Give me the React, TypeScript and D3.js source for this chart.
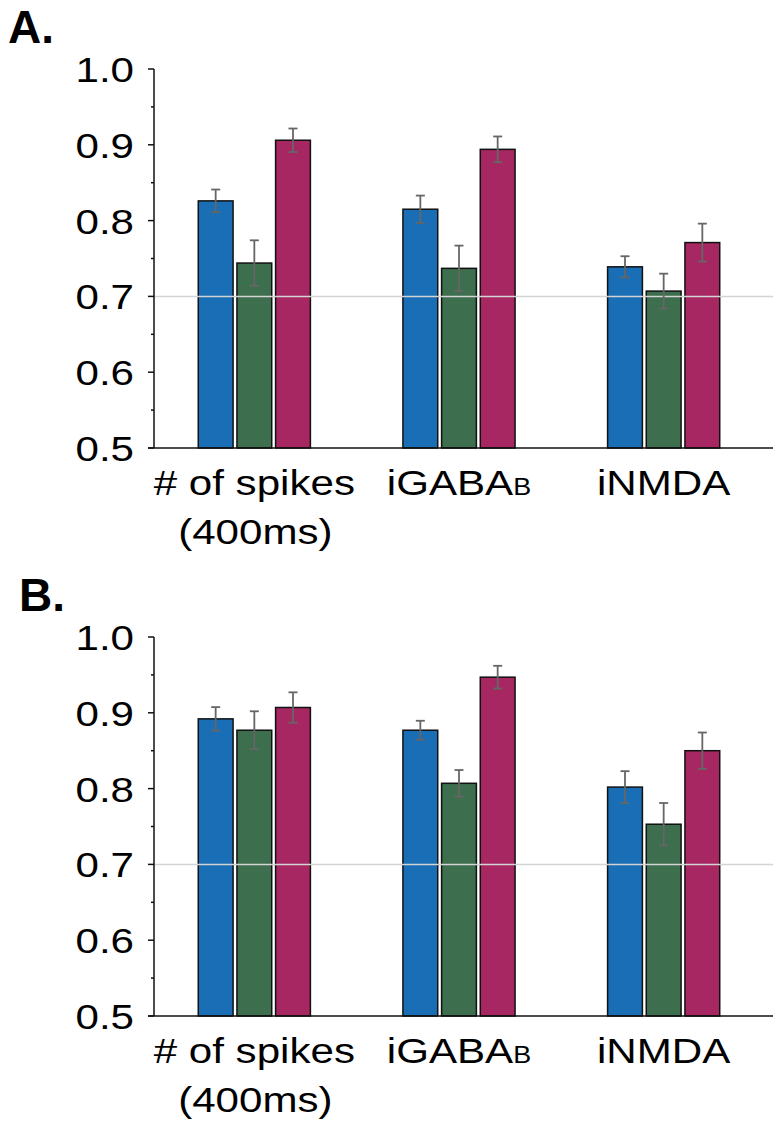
import React from "react";
import * as d3 from "d3";

const categories = ["spikes", "gaba", "nmda"];
const series = ["blue", "green", "red"];
const seriesColors = ["#1a6eb6", "#3d6e4e", "#a72762"];

const panelAValues = [
  [0.826, 0.815, 0.739],
  [0.744, 0.737, 0.707],
  [0.906, 0.894, 0.771],
];
const panelAErrors = [
  [0.015, 0.018, 0.014],
  [0.03, 0.03, 0.023],
  [0.0155, 0.017, 0.025],
];
const panelBValues = [
  [0.892, 0.877, 0.802],
  [0.877, 0.807, 0.753],
  [0.907, 0.947, 0.85],
];
const panelBErrors = [
  [0.0155, 0.0125, 0.021],
  [0.025, 0.0175, 0.028],
  [0.02, 0.015, 0.024],
];
const majorTicks = [0.5, 0.6, 0.7, 0.8, 0.9, 1.0];
const minorTicks = [0.55, 0.65, 0.75, 0.85, 0.95];
const refLine = 0.7;

const FONT = "'Liberation Sans', Arial, Helvetica, sans-serif";
const SX = 1.17;

function SText({ x, y, children, anchor = "middle", size = 36, weight = "normal", dy }: any) {
  return (
    <text
      transform={`translate(${x},${y}) scale(${SX},1)`}
      textAnchor={anchor}
      fontFamily={FONT}
      fontSize={size}
      fontWeight={weight}
      dy={dy}
      fill="#000"
    >
      {children}
    </text>
  );
}

function Panel({ top, label, labelX, values, errors }: any) {
  const y = d3.scaleLinear().domain([0.5, 1.0]).range([top + 379, top]);
  const x = d3.scaleBand().domain(categories).range([152, 766]).padding(0);
  const xi = d3
    .scaleBand()
    .domain(series)
    .range([-58, 58])
    .paddingInner(0.1)
    .paddingOuter(0.05);
  const axisX = 154;
  const base = y(0.5);
  const cx = (c: string) => (x(c) as number) + x.bandwidth() / 2;
  return (
    <g>
      <text
        x={labelX}
        y={top - 26}
        fontFamily={FONT}
        fontWeight="bold"
        fontSize={46}
        fill="#000"
      >
        {label}
      </text>
      {/* bars */}
      {categories.map((c, ci) =>
        series.map((s, si) => {
          const v = values[si][ci];
          const bx = cx(c) + (xi(s) as number);
          return (
            <rect
              key={c + s}
              x={bx}
              y={y(v)}
              width={xi.bandwidth()}
              height={base - y(v)}
              fill={seriesColors[si]}
              stroke="#111"
              strokeWidth={1.5}
            />
          );
        })
      )}
      {/* reference line */}
      <line
        x1={axisX}
        x2={773}
        y1={y(refLine)}
        y2={y(refLine)}
        stroke="#d4d4d4"
        strokeWidth={1.5}
      />
      {/* error bars */}
      {categories.map((c, ci) =>
        series.map((s, si) => {
          const v = values[si][ci];
          const e = errors[si][ci];
          const ex = cx(c) + (xi(s) as number) + xi.bandwidth() / 2;
          return (
            <g key={"e" + c + s} stroke="#666" strokeWidth={1.8}>
              <line x1={ex} x2={ex} y1={y(v + e)} y2={y(v - e)} />
              <line x1={ex - 4.5} x2={ex + 4.5} y1={y(v + e)} y2={y(v + e)} />
              <line x1={ex - 4.5} x2={ex + 4.5} y1={y(v - e)} y2={y(v - e)} />
            </g>
          );
        })
      )}
      {/* axes */}
      <line x1={axisX} x2={axisX} y1={y(1.0)} y2={base} stroke="#111" strokeWidth={1.5} />
      <line x1={148} x2={773} y1={base} y2={base} stroke="#111" strokeWidth={1.5} />
      {majorTicks.map((t) => (
        <g key={"t" + t}>
          <line x1={148} x2={axisX} y1={y(t)} y2={y(t)} stroke="#111" strokeWidth={1.5} />
          <SText x={134} y={y(t)} anchor="end" dy="0.36em">
            {d3.format(".1f")(t)}
          </SText>
        </g>
      ))}
      {minorTicks.map((t) => (
        <line key={"m" + t} x1={151} x2={axisX} y1={y(t)} y2={y(t)} stroke="#111" strokeWidth={1.5} />
      ))}
      {/* category labels */}
      <SText x={cx("spikes")} y={base + 47}>
        # of spikes
      </SText>
      <SText x={cx("spikes") + 1} y={base + 96}>
        (400ms)
      </SText>
      <SText x={cx("gaba")} y={base + 47}>
        iGABA<tspan fontSize={23}>B</tspan>
      </SText>
      <SText x={cx("nmda")} y={base + 47}>
        iNMDA
      </SText>
    </g>
  );
}

export default function App() {
  return (
    <svg
      width={783}
      height={1135}
      style={{ position: "absolute", left: 0, top: 0, display: "block", background: "#fff" }}
    >
      <rect x={0} y={0} width={783} height={1135} fill="#fff" />
      <Panel top={69} label="A." labelX={8} values={panelAValues} errors={panelAErrors} />
      <Panel top={637} label="B." labelX={19} values={panelBValues} errors={panelBErrors} />
    </svg>
  );
}
